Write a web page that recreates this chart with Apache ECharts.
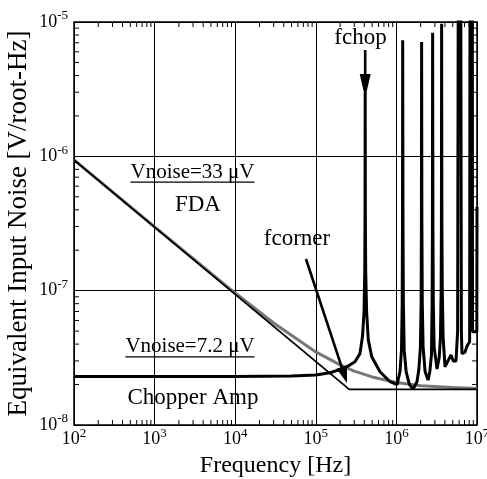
<!DOCTYPE html>
<html>
<head>
<meta charset="utf-8">
<script src="https://cdn.jsdelivr.net/npm/echarts@6/dist/echarts.min.js"></script>
<style>
html, body { margin: 0; padding: 0; background: #fff; }
#chart { width: 487px; height: 479px; }
</style>
</head>
<body>
<div id="chart"></div>
<script>
var FONT = '"Liberation Serif", "Times New Roman", serif';

// minor tick positions (2..9 x decade)
var xDecades = [1e2, 1e3, 1e4, 1e5, 1e6];
var yDecades = [1e-8, 1e-7, 1e-6];
var minorSteps = [2, 3, 4, 5, 6, 7, 8, 9];

// FDA asymptote (thin black)
var asymFreq  = [1e2, 2.6e5, 1e7];
var asymNoise = [9.4e-7, 1.84e-8, 1.84e-8];

// FDA noise (gray)
var fdaFreq  = [1e2, 1e3, 1e4, 3e4, 1e5, 2e5, 3e5, 5e5, 1e6, 2e6, 5e6, 1e7];
var fdaNoise = [9.4e-7, 2.98e-7, 9.6e-8, 5.74e-8, 3.5e-8, 2.8e-8, 2.52e-8, 2.28e-8, 2.07e-8, 1.96e-8, 1.9e-8, 1.87e-8];

// Chopper amp noise
var chopFreq = [
    1e2, 1e3, 1e4, 5e4, 1e5, 1.5e5, 2.3e5, 3.06e5, 3.53e5, 3.8e5, 3.97e5, 4.05e5, 4.08e5,
    4.1e5, 4.12e5, 4.16e5, 4.27e5, 4.48e5, 4.94e5, 6.26e5, 8.34e5,
    1.02e6, 1.108e6, 1.156e6, 1.18e6, 1.19e6, 1.197e6, 1.208e6, 1.221e6, 1.25e6, 1.32e6, 1.45e6,
    1.61e6, 1.8e6, 1.9e6, 1.985e6, 2.026e6, 2.043e6, 2.055e6, 2.073e6, 2.096e6, 2.145e6, 2.27e6,
    2.47e6, 2.6e6, 2.72e6, 2.775e6, 2.798e6, 2.815e6, 2.84e6, 2.871e6, 2.94e6,
    3.19e6, 3.4e6, 3.52e6, 3.59e6, 3.62e6, 3.64e6, 3.67e6, 3.71e6, 3.8e6,
    4.01e6, 4.41e6, 4.76e6, 5.08e6, 5.49e6, 5.75e6, 5.86e6, 6.28e6, 6.4e6, 6.51e6,
    7.1e6, 7.45e6, 7.73e6, 8.1e6, 8.19e6, 8.75e6, 8.8e6, 9.95e6, 1e7
];
var chopNoise = [
    2.3e-8, 2.3e-8, 2.3e-8, 2.32e-8, 2.36e-8, 2.45e-8, 2.66e-8, 2.96e-8, 3.4e-8, 4.6e-8, 7e-8, 1.4e-7, 3.5e-7,
    3e-6, 3.5e-7, 1.4e-7, 7e-8, 4.3e-8, 3.22e-8, 2.49e-8, 2.1e-8,
    2.0e-8, 2.5e-8, 3.6e-8, 8e-8, 3e-7, 7.3e-6, 3e-7, 8e-8, 3.6e-8, 2.5e-8, 2.0e-8,
    1.85e-8, 2.1e-8, 2.6e-8, 3.8e-8, 8e-8, 3e-7, 7.1e-6, 3e-7, 8e-8, 3.8e-8, 2.5e-8,
    2.16e-8, 2.5e-8, 3.3e-8, 8e-8, 3e-7, 8.3e-6, 3e-7, 8e-8, 3.8e-8,
    2.61e-8, 3.2e-8, 4.5e-8, 1e-7, 3e-7, 9.7e-6, 3e-7, 1e-7, 4.5e-8,
    2.71e-8, 3.04e-8, 3.32e-8, 2.99e-8, 3.0e-8, 5e-8, 3e-5, 3e-5, 5e-8, 3.4e-8,
    3.49e-8, 3.8e-8, 4.0e-8, 4.14e-8, 3e-5, 3e-5, 4.94e-8, 4.94e-8, 4.2e-7
];

// annotations (data coordinates)
var noteText = ['fchop', 'fcorner', 'FDA', 'Chopper Amp'];
var notePos  = [[3.59e5, 7.6e-6], [5.85e4, 2.42e-7], [3.45e3, 4.34e-7], [2.99e3, 1.58e-8]];
var vnoiseText = ['Vnoise=33 μV', 'Vnoise=7.2 μV'];
var vnoisePos  = [[2.95e3, 7.64e-7], [2.75e3, 3.82e-8]];
var arrowTail = [[4.1e5, 6.19e-6], [7.55e4, 1.72e-7]];
var arrowTip  = [[4.1e5, 2.72e-6], [2.44e5, 2.05e-8]];

function zip(a, b) {
    return a.map(function (v, i) { return [v, b[i]]; });
}

var xMinor = [], yMinor = [];
xDecades.forEach(function (d) { minorSteps.forEach(function (m) { xMinor.push([d * m, 1e-8]); }); });
yDecades.forEach(function (d) { minorSteps.forEach(function (m) { yMinor.push([1e2, d * m]); }); });

function expLabel(v) {
    var e = Math.round(Math.log(v) / Math.LN10);
    return '{b|10}{s|' + e + '}';
}
var labelRich = {
    b: { fontSize: 18, fontFamily: FONT, color: '#000' },
    s: { fontSize: 13, fontFamily: FONT, color: '#000', padding: [0, 0, 12, 0] }
};

var chart = echarts.init(document.getElementById('chart'));

var option = {
    animation: false,
    backgroundColor: '#fff',
    grid: {
        left: 74, top: 22, width: 403, height: 403, outerBoundsMode: 'none', containLabel: false,
        show: true, borderColor: '#000', borderWidth: 1.5, backgroundColor: 'transparent'
    },
    xAxis: {
        type: 'log', logBase: 10, min: 1e2, max: 1e7, splitNumber: 5,
        name: 'Frequency [Hz]', nameLocation: 'middle', nameGap: 22,
        nameTextStyle: { fontSize: 24, fontFamily: FONT, color: '#000' },
        axisLine: { show: false },
        axisTick: { show: false },
        axisLabel: { formatter: expLabel, rich: labelRich, margin: 2 },
        splitLine: { show: true, lineStyle: { color: '#000', width: 1 } }
    },
    yAxis: {
        type: 'log', logBase: 10, min: 1e-8, max: 1e-5, splitNumber: 3,
        name: 'Equivalent Input Noise [V/root-Hz]', nameLocation: 'middle', nameGap: 42,
        nameMoveOverlap: false,
        nameTextStyle: { fontSize: 27, fontFamily: FONT, color: '#000' },
        axisLine: { show: false },
        axisTick: { show: false },
        axisLabel: { formatter: expLabel, rich: labelRich, margin: 6 },
        splitLine: { show: true, lineStyle: { color: '#000', width: 1 } }
    },
    series: [
        {
            type: 'line', data: zip(fdaFreq, fdaNoise), showSymbol: false, z: 2,
            lineStyle: { color: '#777', width: 3 }
        },
        {
            type: 'line', data: zip(asymFreq, asymNoise), showSymbol: false, z: 3,
            lineStyle: { color: '#000', width: 1.8 }
        },
        {
            type: 'line', data: zip(chopFreq, chopNoise), showSymbol: false, z: 4, clip: true,
            lineStyle: { color: '#000', width: 3 }
        },
        {
            type: 'custom', data: xMinor, z: 5, silent: true,
            renderItem: function (params, api) {
                var b = api.coord([api.value(0), 1e-8]);
                var t = api.coord([api.value(0), 1e-5]);
                return { type: 'group', children: [
                    { type: 'line', shape: { x1: b[0], y1: b[1], x2: b[0], y2: b[1] - 5 }, style: { stroke: '#000', lineWidth: 1 } },
                    { type: 'line', shape: { x1: t[0], y1: t[1], x2: t[0], y2: t[1] + 5 }, style: { stroke: '#000', lineWidth: 1 } }
                ] };
            }
        },
        {
            type: 'custom', data: yMinor, z: 5, silent: true,
            renderItem: function (params, api) {
                var l = api.coord([1e2, api.value(1)]);
                var r = api.coord([1e7, api.value(1)]);
                return { type: 'group', children: [
                    { type: 'line', shape: { x1: l[0], y1: l[1], x2: l[0] + 5, y2: l[1] }, style: { stroke: '#000', lineWidth: 1 } },
                    { type: 'line', shape: { x1: r[0], y1: r[1], x2: r[0] - 5, y2: r[1] }, style: { stroke: '#000', lineWidth: 1 } }
                ] };
            }
        }
    ]
};
chart.setOption(option);

// annotations
var measure = document.createElement('canvas').getContext('2d');
var graphics = [];
function px(p) { return chart.convertToPixel({ gridIndex: 0 }, p); }

noteText.forEach(function (t, i) {
    var p = px(notePos[i]);
    graphics.push({ type: 'text', x: p[0], y: p[1], z: 10,
        style: { text: t, font: '23px ' + FONT, fill: '#000', align: 'center', verticalAlign: 'middle', textAlign: 'center', textVerticalAlign: 'middle' } });
});
vnoiseText.forEach(function (t, i) {
    var p = px(vnoisePos[i]);
    var f = '21px ' + FONT;
    measure.font = f;
    var w = measure.measureText(t).width;
    graphics.push({ type: 'text', x: p[0], y: p[1], z: 10,
        style: { text: t, font: f, fill: '#000', align: 'center', verticalAlign: 'middle', textAlign: 'center', textVerticalAlign: 'middle' } });
    graphics.push({ type: 'line', z: 10,
        shape: { x1: p[0] - w / 2, y1: p[1] + 10, x2: p[0] + w / 2, y2: p[1] + 10 },
        style: { stroke: '#000', lineWidth: 1.3 } });
});

var headLen = [24, 17], headW = [11, 11];
arrowTail.forEach(function (a, i) {
    var s = px(a), e = px(arrowTip[i]);
    var dx = e[0] - s[0], dy = e[1] - s[1];
    var len = Math.sqrt(dx * dx + dy * dy);
    var ux = dx / len, uy = dy / len;
    var bx = e[0] - ux * headLen[i], by = e[1] - uy * headLen[i];
    graphics.push({ type: 'line', z: 11,
        shape: { x1: s[0], y1: s[1], x2: bx + ux, y2: by + uy },
        style: { stroke: '#000', lineWidth: 2.6 } });
    graphics.push({ type: 'polygon', z: 11,
        shape: { points: [[e[0], e[1]],
            [bx - uy * headW[i] / 2, by + ux * headW[i] / 2],
            [bx + uy * headW[i] / 2, by - ux * headW[i] / 2]] },
        style: { fill: '#000' } });
});

chart.setOption({ graphic: graphics });
</script>
</body>
</html>
